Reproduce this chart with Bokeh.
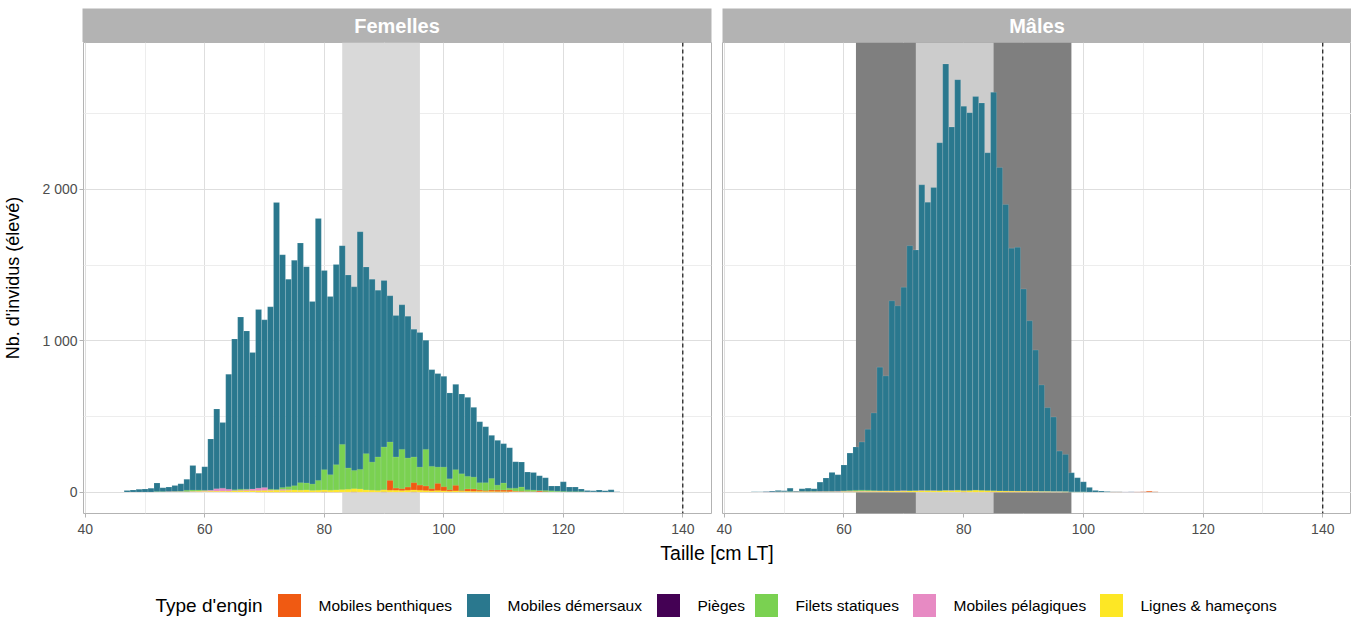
from bokeh.plotting import figure
from bokeh.layouts import column, row
from bokeh.models import Range1d, FixedTicker, Span, CustomJSTickFormatter
from bokeh.embed import file_html
from bokeh.resources import INLINE
from bokeh.core.properties import value

FONT = "Liberation Sans"

# ---------------- data ----------------
gear_names = ["Mobiles benthiques", "Mobiles démersaux", "Pièges",
              "Filets statiques", "Mobiles pélagiques", "Lignes & hameçons"]
gear_colors = ["#f05a12", "#2a788e", "#440154", "#7ad151", "#e78ac3", "#fde725"]

panel_titles = ["Femelles", "Mâles"]
x_label = "Taille [cm LT]"
y_label = "Nb. d'invidus (élevé)"
legend_title = "Type d'engin"

x_major = [40, 60, 80, 100, 120, 140]
x_minor = [50, 70, 90, 110, 130]
y_major = [0, 1000, 2000]
y_minor = [500, 1500, 2500]
vline_size = 140

fem_shades = [(83, 96, "#d9d9d9")]
male_shades = [(62, 98, "#7f7f7f"), (72, 85, "#cccccc")]

# Femelles, 47..129 cm
fem_sizes = list(range(47, 130))
fem_demersaux = [10, 13, 18, 20, 26, 60, 29, 33, 44, 55,
                 84, 176, 124, 168, 351, 549, 459, 779, 1012, 1156,
                 1065, 922, 1206, 1138, 1224, 1914, 1568, 1407, 1531, 1645,
                 1489, 1259, 1808, 1464, 1292, 1504, 1628, 1434, 1356, 1720,
                 1487, 1407, 1334, 1398, 1297, 1167, 1237, 1162, 1076, 1054,
                 1003, 809, 783, 765, 655, 712, 648, 626, 560, 465,
                 432, 375, 342, 320, 293, 201, 198, 132, 130, 108,
                 95, 40, 40, 68, 33, 33, 20, 11, 9, 13,
                 9, 15, 2]
fem_filets = [0, 0, 0, 0, 0, 2, 2, 3, 4, 5,
              12, 13, 13, 12, 10, 8, 8, 10, 16, 19,
              19, 16, 16, 19, 19, 17, 30, 35, 42, 62,
              60, 53, 77, 148, 115, 181, 315, 159, 143, 150,
              254, 198, 232, 298, 331, 232, 282, 225, 232, 165,
              282, 170, 165, 165, 88, 148, 121, 104, 99, 62,
              62, 90, 46, 60, 26, 26, 33, 15, 13, 10,
              10, 8, 5, 4, 3, 2, 2, 1, 1, 0,
              0, 0, 0]
fem_benthiques = [0, 0, 0, 0, 0, 0, 0, 0, 0, 0,
                  0, 0, 0, 1, 1, 1, 1, 2, 2, 2,
                  1, 2, 2, 2, 3, 2, 2, 3, 3, 2,
                  3, 3, 4, 3, 4, 4, 5, 6, 8, 5,
                  8, 10, 8, 15, 77, 26, 22, 33, 62, 46,
                  40, 22, 57, 35, 15, 44, 10, 20, 20, 13,
                  9, 13, 13, 13, 13, 5, 4, 3, 3, 7,
                  2, 1, 1, 0, 0, 0, 0, 0, 0, 0,
                  0, 0, 0]
fem_lignes = [0, 0, 0, 0, 0, 0, 0, 0, 0, 0,
              0, 3, 4, 4, 5, 5, 6, 6, 7, 8,
              8, 8, 9, 10, 10, 12, 10, 12, 14, 12,
              14, 10, 12, 14, 12, 14, 16, 18, 22, 20,
              14, 12, 10, 14, 12, 12, 10, 12, 14, 12,
              10, 8, 10, 8, 6, 8, 6, 6, 5, 5,
              4, 4, 3, 3, 2, 2, 1, 1, 1, 1,
              0, 0, 0, 0, 0, 0, 0, 0, 0, 0,
              0, 0, 0]
fem_pelagiques = [0, 0, 0, 0, 0, 1, 1, 2, 2, 3,
                  3, 4, 5, 8, 12, 22, 26, 18, 10, 12,
                  16, 20, 26, 30, 14, 12, 18, 16, 10, 10,
                  8, 8, 6, 6, 5, 5, 4, 4, 4, 3,
                  3, 3, 3, 2, 2, 2, 2, 1, 1, 1,
                  1, 1, 1, 1, 0, 0, 0, 0, 0, 0,
                  0, 0, 0, 0, 0, 0, 0, 0, 0, 0,
                  0, 0, 0, 0, 0, 0, 0, 0, 0, 0,
                  0, 0, 0]
fem_pieges = [0, 0, 0, 0, 0, 0, 0, 0, 0, 0,
              0, 0, 0, 0, 0, 0, 0, 0, 0, 0,
              0, 0, 0, 0, 0, 0, 0, 0, 0, 0,
              0, 0, 0, 1, 0, 0, 0, 0, 1, 0,
              0, 0, 0, 1, 0, 0, 0, 0, 1, 0,
              0, 0, 0, 0, 0, 0, 0, 0, 0, 0,
              0, 0, 0, 0, 0, 0, 0, 0, 0, 0,
              0, 0, 0, 0, 0, 0, 0, 0, 0, 0,
              0, 0, 0]

# Mâles, 45..112 cm
male_sizes = list(range(45, 113))
male_demersaux = [2, 2, 4, 7, 11, 9, 26, 7, 22, 26,
                  22, 66, 93, 130, 115, 179, 258, 298, 331, 415,
                  523, 825, 768, 1264, 1231, 1353, 1628, 1600, 2030, 1915,
                  2012, 2308, 2829, 2412, 2725, 2549, 2507, 2613, 2571, 2242,
                  2641, 2145, 1900, 1611, 1617, 1342, 1132, 938, 708, 558,
                  496, 271, 249, 128, 95, 68, 31, 11, 7, 4,
                  2, 2, 1, 2, 1, 1, 0, 1]
male_filets = [0, 0, 0, 0, 1, 1, 2, 2, 3, 3,
               4, 4, 5, 5, 6, 8, 10, 12, 13, 12,
               10, 8, 8, 7, 7, 8, 8, 9, 8, 10,
               9, 8, 10, 9, 12, 8, 9, 10, 9, 8,
               8, 7, 7, 6, 6, 5, 5, 4, 3, 3,
               2, 2, 2, 1, 1, 1, 0, 0, 0, 0,
               0, 0, 0, 0, 0, 0, 0, 0]
male_lignes = [0, 0, 0, 0, 0, 0, 0, 0, 0, 0,
               0, 0, 0, 0, 0, 2, 2, 3, 3, 4,
               4, 5, 5, 6, 6, 6, 7, 7, 8, 8,
               7, 8, 9, 8, 10, 8, 9, 12, 10, 9,
               8, 7, 6, 5, 4, 4, 3, 3, 2, 2,
               1, 1, 1, 0, 0, 0, 0, 0, 0, 0,
               0, 0, 0, 0, 0, 0, 0, 0]
male_pelagiques = [0, 1, 1, 1, 1, 1, 1, 2, 2, 2,
                   2, 3, 3, 3, 4, 4, 5, 5, 6, 6,
                   6, 7, 7, 6, 8, 9, 7, 8, 10, 8,
                   9, 6, 8, 10, 7, 8, 6, 7, 5, 5,
                   4, 4, 3, 3, 2, 2, 2, 1, 1, 1,
                   1, 1, 0, 0, 0, 0, 0, 0, 0, 0,
                   0, 0, 1, 1, 1, 1, 0, 0]
male_benthiques = [0, 0, 0, 0, 0, 0, 0, 0, 0, 0,
                   0, 0, 0, 0, 0, 0, 0, 0, 0, 0,
                   0, 0, 0, 0, 0, 0, 0, 0, 0, 0,
                   0, 0, 0, 0, 0, 1, 1, 2, 2, 3,
                   3, 4, 4, 3, 3, 2, 2, 2, 1, 1,
                   1, 1, 1, 0, 0, 0, 0, 0, 0, 0,
                   1, 1, 0, 0, 1, 2, 6, 2]
male_pieges = [0, 0, 0, 0, 0, 0, 0, 0, 0, 0,
               0, 0, 0, 0, 0, 0, 0, 0, 0, 0,
               0, 0, 0, 0, 0, 0, 0, 0, 0, 0,
               0, 0, 0, 0, 0, 1, 0, 0, 0, 0,
               1, 0, 0, 0, 0, 0, 0, 0, 0, 0,
               0, 0, 0, 0, 0, 0, 0, 0, 0, 0,
               0, 0, 0, 0, 0, 0, 0, 0]

fem_series = {"Mobiles benthiques": fem_benthiques, "Mobiles démersaux": fem_demersaux,
              "Pièges": fem_pieges, "Filets statiques": fem_filets,
              "Mobiles pélagiques": fem_pelagiques, "Lignes & hameçons": fem_lignes}
male_series = {"Mobiles benthiques": male_benthiques, "Mobiles démersaux": male_demersaux,
               "Pièges": male_pieges, "Filets statiques": male_filets,
               "Mobiles pélagiques": male_pelagiques, "Lignes & hameçons": male_lignes}

# ---------------- layout / style ----------------
color_of = dict(zip(gear_names, gear_colors))
draw_order = ["Mobiles démersaux", "Filets statiques", "Mobiles pélagiques",
              "Mobiles benthiques", "Lignes & hameçons", "Pièges"]

X_RANGE = (39.7, 144.8)
Y_RANGE = (-141.5, 2970.5)
FRAME_W, FRAME_H = 629, 471
TOP_PAD = 8
STRIP_H = 34
BOTTOM_B = 27
PAGE_H = 619


def make_strip(label, lb, rb):
    s = figure(width=lb + FRAME_W + rb, height=TOP_PAD + STRIP_H,
               x_range=Range1d(0, 1), y_range=Range1d(0, 1),
               x_axis_type=None, y_axis_type=None,
               output_backend="svg", toolbar_location=None,
               min_border_left=lb, min_border_right=rb,
               min_border_top=TOP_PAD, min_border_bottom=0)
    s.grid.visible = False
    s.background_fill_color = "#b3b3b3"
    s.border_fill_color = "white"
    s.outline_line_color = None
    s.text(x=[0.5], y=[0.5], text=[label], text_align="center",
           text_baseline="middle", text_color="white",
           text_font=value(FONT), text_font_style="bold", text_font_size="20px")
    return s


def make_panel(sizes, series, shades, lb, rb, show_y):
    p = figure(width=lb + FRAME_W + rb, height=FRAME_H + BOTTOM_B,
               x_range=Range1d(*X_RANGE), y_range=Range1d(*Y_RANGE),
               output_backend="svg", toolbar_location=None,
               min_border_left=lb, min_border_right=rb,
               min_border_top=0, min_border_bottom=BOTTOM_B)
    p.background_fill_color = "white"
    p.border_fill_color = "white"
    p.outline_line_color = "#b3b3b3"
    p.outline_line_width = 1

    xt = FixedTicker(ticks=x_major, minor_ticks=x_minor)
    yt = FixedTicker(ticks=y_major, minor_ticks=y_minor)
    p.xaxis.ticker = xt
    p.yaxis.ticker = yt
    p.xgrid.ticker = xt
    p.ygrid.ticker = yt
    for g in (p.xgrid, p.ygrid):
        g.grid_line_color = "#dedede"
        g.grid_line_width = 1
        g.minor_grid_line_color = "#ededed"
        g.minor_grid_line_width = 1

    for ax in p.axis:
        ax.axis_line_color = None
        ax.major_tick_line_color = "#b3b3b3"
        ax.major_tick_out = 4
        ax.major_tick_in = 0
        ax.minor_tick_line_color = None
        ax.major_label_text_font = FONT
        ax.major_label_text_font_size = "14px"
        ax.major_label_text_color = "#4d4d4d"
    p.xaxis.major_label_standoff = 6
    p.yaxis.major_label_standoff = 2
    p.yaxis.formatter = CustomJSTickFormatter(
        code=r"return String(tick).replace(/\B(?=(\d{3})+(?!\d))/g, ' ');")
    if show_y:
        p.yaxis.axis_label = y_label
        p.yaxis.axis_label_text_font = FONT
        p.yaxis.axis_label_text_font_style = "normal"
        p.yaxis.axis_label_text_font_size = "18px"
        p.yaxis.axis_label_text_color = "black"
        p.yaxis.axis_label_standoff = 16
    else:
        p.yaxis.visible = False

    for lo, hi, col in shades:
        p.quad(left=[lo], right=[hi], bottom=[Y_RANGE[0]], top=[Y_RANGE[1]],
               fill_color=col, line_color=None)

    for name in draw_order:
        vals = series[name]
        xs = [s for s, v in zip(sizes, vals) if v > 0]
        ys = [v for v in vals if v > 0]
        p.vbar(x=xs, top=ys, bottom=0, width=1, fill_color=color_of[name],
               line_color="white", line_alpha=0.25, line_width=0.5)

    p.add_layout(Span(location=vline_size, dimension="height", line_color="black",
                      line_dash="4 3", line_width=1.1))
    return p


LB_F, RB_F = 82, 5
LB_M, RB_M = 6, 0

strip_f = make_strip(panel_titles[0], LB_F, RB_F)
strip_m = make_strip(panel_titles[1], LB_M, RB_M)
panel_f = make_panel(fem_sizes, fem_series, fem_shades, LB_F, RB_F, True)
panel_m = make_panel(male_sizes, male_series, male_shades, LB_M, RB_M, False)

# bottom area: x title and legend (page pixel coordinates)
total_w = LB_F + FRAME_W + RB_F + LB_M + FRAME_W + RB_M
top_y = TOP_PAD + STRIP_H + FRAME_H + BOTTOM_B
bottom_h = PAGE_H - top_y
b = figure(width=total_w, height=bottom_h,
           x_range=Range1d(0, total_w), y_range=Range1d(top_y + bottom_h, top_y),
           x_axis_type=None, y_axis_type=None,
           output_backend="svg", toolbar_location=None,
           min_border_left=0, min_border_right=0, min_border_top=0, min_border_bottom=0)
b.grid.visible = False
b.outline_line_color = None
b.background_fill_color = "white"
b.border_fill_color = "white"

x_title_center = (LB_F + total_w - RB_M) / 2
b.text(x=[x_title_center], y=[top_y + 1], text=[x_label], text_align="center",
       text_baseline="top", text_color="black",
       text_font=value(FONT), text_font_size="19.5px")

legend_y = 605
key_size = 23
key_x = [289, 478, 668, 766, 924, 1111]
b.text(x=[155], y=[legend_y], text=[legend_title], text_align="left",
       text_baseline="middle", text_color="black",
       text_font=value(FONT), text_font_size="19px")
b.rect(x=key_x, y=[legend_y] * len(key_x), width=key_size, height=key_size,
       fill_color=gear_colors, line_color=None)
b.text(x=[k + 29 for k in key_x], y=[legend_y] * len(key_x), text=gear_names,
       text_align="left", text_baseline="middle", text_color="black",
       text_font=value(FONT), text_font_size="15.5px")

layout = column(row(strip_f, strip_m), row(panel_f, panel_m), b)

open("out.html", "w").write(file_html(layout, INLINE))
